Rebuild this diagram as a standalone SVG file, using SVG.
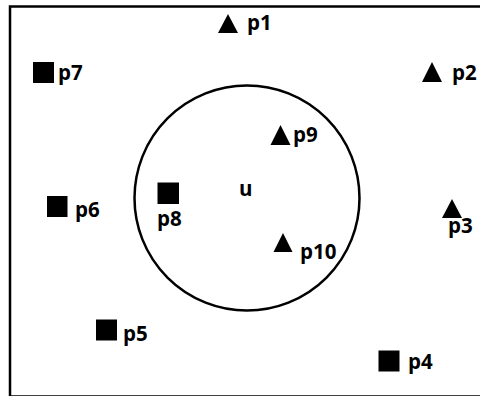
<svg xmlns="http://www.w3.org/2000/svg" width="480" height="396" viewBox="0 0 480 396">
<style>
.lbl{font-family:"Open Sans","Liberation Sans",sans-serif;font-weight:700;font-size:20.5px;fill:#000}
.sq,.tri{fill:#000}
.frame,.ring{fill:none;stroke:#000;stroke-width:2.5}
</style>
<rect width="480" height="396" fill="#fff"/>
<rect class="frame" x="10" y="6.5" width="475" height="390"/>
<g id="u">
<circle class="ring" cx="247" cy="198" r="112.5"/>
<text class="lbl" x="239" y="196">u</text>
</g>
<g id="p1"><polygon class="tri" points="228,14 238,33 218,33"/><text class="lbl" x="247" y="30">p1</text></g>
<g id="p2"><polygon class="tri" points="432,62 442,82 422,82"/><text class="lbl" x="452" y="80">p2</text></g>
<g id="p3"><polygon class="tri" points="452,199 462,218 442,218"/><text class="lbl" x="448" y="233">p3</text></g>
<g id="p4"><rect class="sq" x="378.5" y="350.5" width="21" height="21"/><text class="lbl" x="408" y="369">p4</text></g>
<g id="p5"><rect class="sq" x="96" y="319.5" width="21" height="21"/><text class="lbl" x="123" y="341">p5</text></g>
<g id="p6"><rect class="sq" x="47" y="196" width="20.5" height="21"/><text class="lbl" x="75" y="217">p6</text></g>
<g id="p7"><rect class="sq" x="33" y="62" width="21" height="21"/><text class="lbl" x="58" y="80">p7</text></g>
<g id="p8"><rect class="sq" x="157.5" y="182.5" width="21.5" height="21.5"/><text class="lbl" x="157" y="226">p8</text></g>
<g id="p9"><polygon class="tri" points="280.5,125 290.5,145 270.5,145"/><text class="lbl" x="293" y="142">p9</text></g>
<g id="p10"><polygon class="tri" points="283,233 292.5,252 273.5,252"/><text class="lbl" x="300" y="259">p10</text></g>
</svg>
